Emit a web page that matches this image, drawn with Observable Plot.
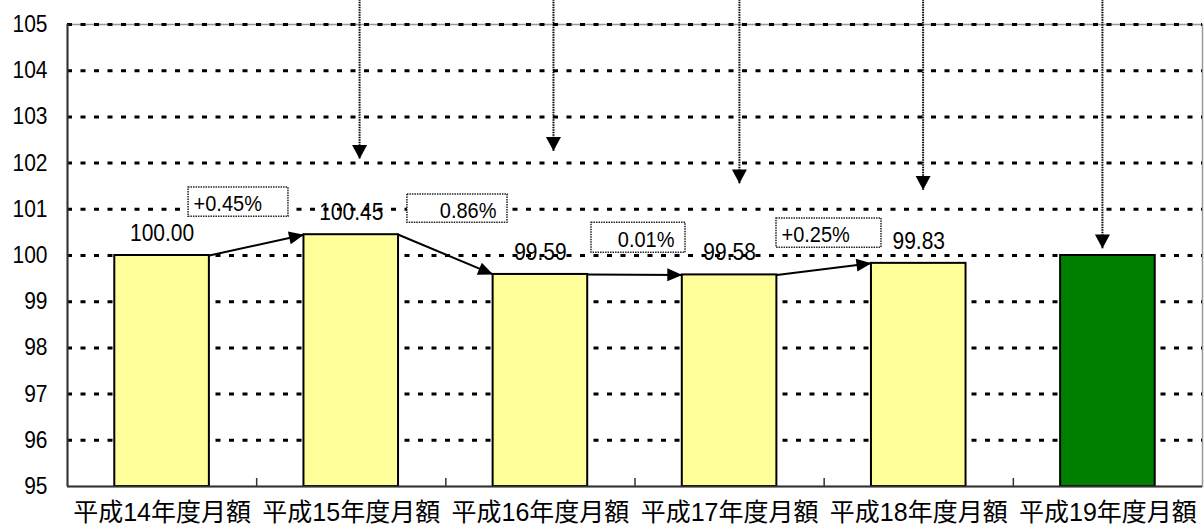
<!DOCTYPE html>
<html><head><meta charset="utf-8">
<script src="https://cdn.jsdelivr.net/npm/d3@7"></script>
<script src="https://cdn.jsdelivr.net/npm/@observablehq/plot@0.6"></script>
<style>
html,body{margin:0;padding:0;background:#fff;}
#chart svg{font-family:"Liberation Sans","Noto Sans CJK JP",Arial,sans-serif;color:#000;}
.tall{transform:scaleY(1.12);transform-box:fill-box;transform-origin:center;}
</style></head><body><div id="chart"></div>
<script>
// ---- data ----
const categories = ["平成14年度月額","平成15年度月額","平成16年度月額","平成17年度月額","平成18年度月額","平成19年度月額"];
const values = [100.00, 100.45, 99.59, 99.58, 99.83, 100.00];
const valueLabels = ["100.00","100.45","99.59","99.58","99.83",""];
const highlighted = [false,false,false,false,false,true];
const yTicks = [95,96,97,98,99,100,101,102,103,104,105];
// year-on-year change annotations (between consecutive bars)
const stepLabels = ["+0.45%","0.86%","0.01%","+0.25%"];
const stepBoxLeft = [0.14, 1.297, 2.27, 3.248];
const stepBoxRight = [0.668, 1.826, 2.767, 3.803];
const stepBoxTop = [101.47, 101.32, 100.71, 100.80];
const stepBoxBottom = [100.84, 100.71, 100.06, 100.17];
// dotted pointers coming from above (x in category units, tip value)
const pointerX = [1.044, 2.069, 3.052, 4.023, 4.971];
const pointerTip = [102.09, 102.26, 101.56, 101.42, 100.15];

// ---- build ----
const bars = categories.map((c,i)=>({i, c, value: values[i], label: valueLabels[i], hl: highlighted[i]}));
const steps = stepLabels.map((t,k)=>({text:t, x1: stepBoxLeft[k], x2: stepBoxRight[k], y1: stepBoxBottom[k], y2: stepBoxTop[k], start: t.startsWith("+")}));
const links = values.slice(0,-2).map((v,k)=>({x1: k+0.25, y1: v, x2: k+1-0.25, y2: values[k+1]}));
const pointers = pointerX.map((x,k)=>({x, tip: pointerTip[k]}));
const boundaries = d3.range(categories.length-1).map(i=>i+0.5);
const yMin = yTicks[0], yMax = yTicks[yTicks.length-1];

const chart = Plot.plot({
  width: 1204, height: 528,
  marginLeft: 67, marginRight: 2, marginTop: 24, marginBottom: 42,
  x: {type:"linear", domain:[-0.5, categories.length-0.5]},
  y: {domain:[yMin, yMax]},
  marks: [
    Plot.frame({stroke:"#999", strokeWidth:1.5}),
    Plot.gridY(yTicks.slice(1), {stroke:"#000", strokeOpacity:1, strokeWidth:3, strokeDasharray:"5,8.5"}),
    Plot.rect(bars, {x1: d=>d.i-0.25, x2: d=>d.i+0.25, y1: yMin, y2: "value",
      fill: d=>d.hl ? "#008000" : "#FFFF99", stroke:"#000", strokeWidth:2}),
    Plot.ruleX([-0.5], {stroke:"#333", strokeWidth:2}),
    Plot.ruleY([yMin], {stroke:"#333", strokeWidth:2}),
    Plot.tickX(boundaries, {x: d=>d, insetTop: 454, stroke:"#333", strokeWidth:1.5}),
    Plot.axisY({ticks: yTicks, tickSize:0, tickPadding:20, fontSize:21, tickFormat: d=>String(d), label:null}),
    Plot.axisX({ticks: d3.range(categories.length), tickSize:0, tickPadding:17, fontSize:25, tickFormat: i=>categories[i], label:null}),
    Plot.rect(steps, {x1:"x1", x2:"x2", y1:"y1", y2:"y2", fill:"#fff", stroke:"#222", strokeWidth:1.5, strokeDasharray:"1.5,1"}),
    Plot.text(steps.filter(d=>d.start), {x:"x1", y: d=>(d.y1+d.y2)/2, text:"text", textAnchor:"start", dx:5, dy:2, fontSize:20, fill:"#000"}),
    Plot.text(steps.filter(d=>!d.start), {x:"x2", y: d=>(d.y1+d.y2)/2, text:"text", textAnchor:"end", dx:-11, dy:2, fontSize:20, fill:"#000"}),
    Plot.text(bars.filter(d=>d.label), {x:"i", y:"value", text:"label", dy:-22, fontSize:21, fill:"#000"}),
    Plot.link(links, {x1:"x1", y1:"y1", x2:"x2", y2:"y2", stroke:"#000", strokeWidth:2, ariaDescription:"step-arrows"}),
    Plot.link(pointers, {x1:"x", x2:"x", y1: yMax + 0.6, y2:"tip", stroke:"#000", strokeWidth:2, strokeDasharray:"1.5,1", ariaDescription:"pointer-arrows"})
  ]
});

// filled triangular arrow heads
const ns = "http://www.w3.org/2000/svg";
const defs = document.createElementNS(ns, "defs");
function makeMarker(id, len, half){
  const m = document.createElementNS(ns, "marker");
  m.setAttribute("id", id);
  m.setAttribute("viewBox", `${-len-1} ${-half-1} ${len+2} ${2*half+2}`);
  m.setAttribute("refX", "0"); m.setAttribute("refY", "0");
  m.setAttribute("markerWidth", String(len+2)); m.setAttribute("markerHeight", String(2*half+2));
  m.setAttribute("markerUnits", "userSpaceOnUse");
  m.setAttribute("orient", "auto");
  const p = document.createElementNS(ns, "path");
  p.setAttribute("d", `M0,0L${-len},${-half}L${-len},${half}Z`);
  p.setAttribute("fill", "#000"); p.setAttribute("stroke", "none");
  m.appendChild(p);
  defs.appendChild(m);
}
makeMarker("triStep", 15, 6.5);
makeMarker("triPointer", 14, 7.5);
chart.insertBefore(defs, chart.firstChild);
chart.querySelectorAll('g[aria-description="step-arrows"] path').forEach(p=>p.setAttribute("marker-end","url(#triStep)"));
chart.querySelectorAll('g[aria-description="pointer-arrows"] path').forEach(p=>p.setAttribute("marker-end","url(#triPointer)"));
// the source renders Latin numerals slightly taller than the font's natural proportions
chart.querySelectorAll("text").forEach(t=>{
  if (/[\u3000-\u9fff]/.test(t.textContent)) return;
  const g = document.createElementNS(ns, "g");
  g.setAttribute("class", "tall");
  t.parentNode.insertBefore(g, t);
  g.appendChild(t);
});
document.getElementById("chart").appendChild(chart);
</script></body></html>
